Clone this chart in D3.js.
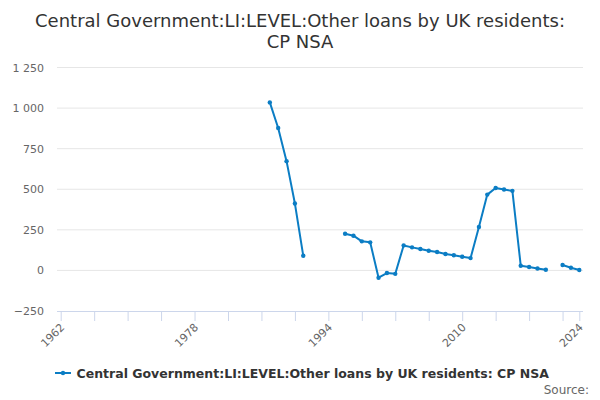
<!DOCTYPE html>
<html>
<head>
<meta charset="utf-8">
<script src="https://cdn.jsdelivr.net/npm/d3@7"></script>
<style>
  body { margin: 0; background: #fff; }
  text { font-family: "DejaVu Sans", Verdana, sans-serif; }
</style>
</head>
<body>
<div id="chart"></div>
<script>
// chart data
var titleLines = ["Central Government:LI:LEVEL:Other loans by UK residents:", "CP NSA"];
var seriesName = "Central Government:LI:LEVEL:Other loans by UK residents: CP NSA";
var years = [1987, 1988, 1989, 1990, 1991, 1992, 1993, 1994, 1995, 1996,
             1997, 1998, 1999, 2000, 2001, 2002, 2003, 2004, 2005, 2006,
             2007, 2008, 2009, 2010, 2011, 2012, 2013, 2014, 2015, 2016,
             2017, 2018, 2019, 2020, 2021, 2022, 2023, 2024];
var values = [1035, 877, 673, 412, 90, null, null, null, null, 226,
              214, 179, 173, -45, -16, -21, 154, 142, 132, 121,
              113, 101, 93, 84, 76, 267, 467, 508, 498, 490,
              29, 21, 12, 4, null, 33, 16, 3];
var yTicks = [-250, 0, 250, 500, 750, 1000, 1250];
var xTicks = [1962, 1966, 1970, 1974, 1978, 1982, 1986, 1990, 1994, 1998,
              2002, 2006, 2010, 2014, 2018, 2022, 2024];
var xLabels = [1962, 1978, 1994, 2010, 2024];

var width = 600, height = 400;
var plotLeft = 57, plotRight = 583;
var color = "#0b7dc4";

var svg = d3.select("#chart")
  .append("svg")
    .attr("width", width)
    .attr("height", height);

// scales
var x = d3.scaleLinear()
  .domain([1962, 2024])
  .range([60.7, 579.3]);

var y = d3.scaleLinear()
  .domain([-250, 1250])
  .range([311, 67.5]);

var fmt = function(v) { return d3.format(",")(v).replace(/,/g, " "); };

// title
svg.append("text")
  .attr("x", 300)
  .attr("text-anchor", "middle")
  .style("font-size", "18px")
  .style("fill", "#333")
  .selectAll("tspan")
  .data(titleLines)
  .enter()
  .append("tspan")
    .attr("x", 300)
    .attr("y", function(d, i) { return 27 + i * 21; })
    .text(function(d) { return d; });

// grid lines
svg.append("g")
  .selectAll("line")
  .data(yTicks.filter(function(d) { return d > -250; }))
  .enter()
  .append("line")
    .attr("x1", plotLeft)
    .attr("x2", plotRight)
    .attr("y1", function(d) { return y(d); })
    .attr("y2", function(d) { return y(d); })
    .attr("stroke", "#e6e6e6")
    .attr("stroke-width", 1);

// y axis labels
var yAxis = svg.append("g")
  .attr("transform", "translate(" + plotLeft + ",0)")
  .call(d3.axisLeft(y).tickValues(yTicks).tickSize(0).tickPadding(13).tickFormat(fmt));
yAxis.select(".domain").remove();
yAxis.selectAll("text")
  .style("font-size", "11px")
  .style("fill", "#666")
  .style("font-family", "\"DejaVu Sans\", Verdana, sans-serif");

// x axis
var xAxis = svg.append("g")
  .attr("transform", "translate(0," + y(-250) + ")")
  .call(d3.axisBottom(x).tickValues(xTicks).tickSize(10).tickSizeOuter(0)
    .tickFormat(function(d) { return xLabels.indexOf(d) >= 0 ? d : ""; }));
xAxis.select(".domain")
  .attr("d", "M" + plotLeft + ",0.5H" + plotRight)
  .attr("stroke", "#ccd6eb");
xAxis.selectAll(".tick line").attr("stroke", "#ccd6eb");
xAxis.selectAll("text")
  .style("font-size", "11px")
  .style("fill", "#666")
  .style("font-family", "\"DejaVu Sans\", Verdana, sans-serif")
  .attr("text-anchor", "end")
  .attr("dy", null)
  .attr("y", 0)
  .attr("transform", "translate(4,17) rotate(-45)");

// line
var points = years.map(function(d, i) { return {year: d, value: values[i]}; });
var line = d3.line()
  .defined(function(d) { return d.value !== null; })
  .x(function(d) { return x(d.year); })
  .y(function(d) { return y(d.value); });

svg.append("path")
  .datum(points)
  .attr("fill", "none")
  .attr("stroke", color)
  .attr("stroke-width", 2)
  .attr("stroke-linejoin", "round")
  .attr("d", line);

svg.append("g")
  .selectAll("circle")
  .data(points.filter(function(d) { return d.value !== null; }))
  .enter()
  .append("circle")
    .attr("cx", function(d) { return x(d.year); })
    .attr("cy", function(d) { return y(d.value); })
    .attr("r", 2.2)
    .attr("fill", color);

// legend
var legend = svg.append("g").attr("transform", "translate(55,373)");
legend.append("line")
  .attr("x1", 0).attr("x2", 16)
  .attr("stroke", color).attr("stroke-width", 2);
legend.append("circle")
  .attr("cx", 8).attr("r", 2.2).attr("fill", color);
legend.append("text")
  .attr("x", 21.5)
  .attr("y", 4.6)
  .style("font-size", "12.5px")
  .style("font-weight", "bold")
  .style("fill", "#333")
  .text(seriesName);

// source
svg.append("text")
  .attr("x", 589)
  .attr("y", 394)
  .attr("text-anchor", "end")
  .style("font-size", "12px")
  .style("fill", "#666")
  .text("Source:");
</script>
</body>
</html>
